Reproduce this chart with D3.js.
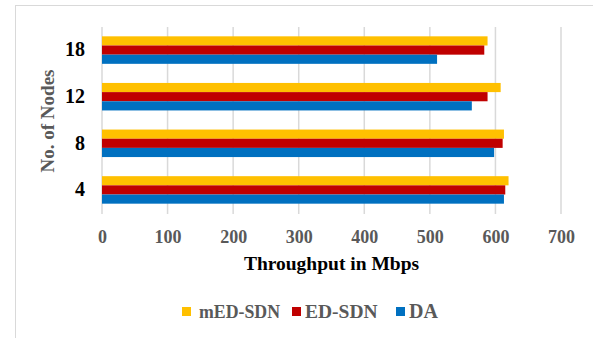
<!DOCTYPE html>
<html>
<head>
<meta charset="utf-8">
<script src="https://cdn.jsdelivr.net/npm/d3@7"></script>
<style>
  body { margin: 0; background: #fff; }
  svg { display: block; }
</style>
</head>
<body>
<div id="chart"></div>
<script>
const nodes = ["4", "8", "12", "18"];
const seriesNames = ["mED-SDN", "ED-SDN", "DA"];
const mEDSDN = [620, 613, 608, 588];
const EDSDN = [615, 611, 588, 583];
const DA = [613, 598, 564, 511];
const xTicks = [0, 100, 200, 300, 400, 500, 600, 700];

const colors = {"mED-SDN": "#FFC000", "ED-SDN": "#C00000", "DA": "#0070C0"};
const values = {"mED-SDN": mEDSDN, "ED-SDN": EDSDN, "DA": DA};

const width = 593, height = 338;
const plot = {left: 102, right: 561, top: 27, bottom: 214};
const font = "'Liberation Serif', 'Times New Roman', serif";

const svg = d3.select("#chart").append("svg")
	.attr("width", width)
	.attr("height", height)
	.style("font-family", font)
	.style("font-weight", "bold");

// outer frame (runs off right/bottom)
svg.append("rect")
	.attr("x", 15.5).attr("y", 5.5)
	.attr("width", 700).attr("height", 500)
	.attr("fill", "none")
	.attr("stroke", "#d9d9d9")
	.attr("stroke-width", 1);

const x = d3.scaleLinear()
	.domain([0, 700])
	.range([plot.left, plot.right]);

const y = d3.scaleBand()
	.domain(nodes)
	.range([213, 27])
	.paddingInner(0.41)
	.paddingOuter(0.2);

const ySub = d3.scaleBand()
	.domain(seriesNames)
	.range([0, y.bandwidth()]);

// gridlines
svg.append("g")
	.selectAll("line")
	.data(xTicks)
	.join("line")
	.attr("x1", d => x(d)).attr("x2", d => x(d))
	.attr("y1", plot.top).attr("y2", plot.bottom)
	.attr("stroke", "#d9d9d9")
	.attr("stroke-width", 1.5);

// bars
const rows = nodes.map((n, i) => ({node: n, vals: seriesNames.map(s => ({s, v: values[s][i]}))}));
svg.append("g")
	.selectAll("g")
	.data(rows)
	.join("g")
	.attr("transform", d => `translate(0,${y(d.node)})`)
	.selectAll("rect")
	.data(d => d.vals)
	.join("rect")
	.attr("x", x(0))
	.attr("y", d => ySub(d.s))
	.attr("width", d => x(d.v) - x(0))
	.attr("height", ySub.bandwidth())
	.attr("fill", d => colors[d.s]);

// x axis labels
const xAxis = svg.append("g")
	.attr("transform", `translate(0,${plot.bottom})`)
	.call(d3.axisBottom(x).tickValues(xTicks).tickSize(0).tickPadding(16));
xAxis.select(".domain").remove();
xAxis.selectAll("text")
	.attr("fill", "#595959")
	.style("font-size", "18px")
	.style("font-family", font)
	.style("font-weight", "bold");

// y axis labels
const yAxis = svg.append("g")
	.attr("transform", `translate(${plot.left},0)`)
	.call(d3.axisLeft(y).tickSize(0).tickPadding(17));
yAxis.select(".domain").remove();
yAxis.selectAll("text")
	.attr("fill", "#000")
	.style("font-size", "20px")
	.style("font-family", font)
	.style("font-weight", "bold");

// axis titles
svg.append("text")
	.attr("x", (plot.left + plot.right) / 2)
	.attr("y", 270)
	.attr("text-anchor", "middle")
	.attr("fill", "#000")
	.style("font-size", "19.5px")
	.text("Throughput in Mbps");

svg.append("text")
	.attr("transform", "translate(54,121) rotate(-90)")
	.attr("text-anchor", "middle")
	.attr("fill", "#595959")
	.style("font-size", "19px")
	.text("No. of Nodes");

// legend
const legend = [
	{s: "mED-SDN", bx: 182, tx: 199, size: 17.8},
	{s: "ED-SDN", bx: 292, tx: 305, size: 19.5},
	{s: "DA", bx: 396, tx: 409, size: 20}
];
const lg = svg.append("g").selectAll("g").data(legend).join("g");
lg.append("rect")
	.attr("x", d => d.bx).attr("y", 307)
	.attr("width", 9).attr("height", 9)
	.attr("fill", d => colors[d.s]);
lg.append("text")
	.attr("x", d => d.tx).attr("y", 318)
	.attr("fill", "#595959")
	.style("font-size", d => d.size + "px")
	.text(d => d.s);
</script>
</body>
</html>
